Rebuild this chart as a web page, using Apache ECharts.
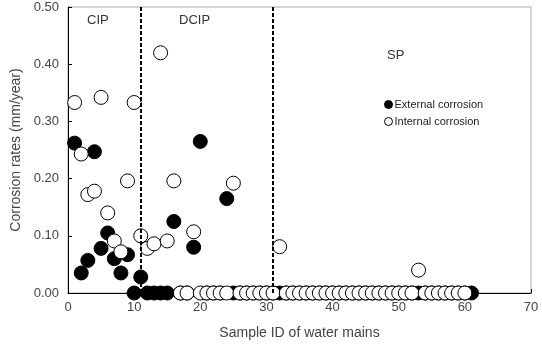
<!DOCTYPE html>
<html>
<head>
<meta charset="utf-8">
<script src="https://cdn.jsdelivr.net/npm/echarts@6/dist/echarts.min.js"></script>
<style>html,body{margin:0;padding:0;background:#fff;}#c{width:542px;height:345px;}</style>
</head>
<body>
<div id="c"></div>
<script>
// Sample IDs
const sampleIds = Array.from({length: 61}, (_, i) => i + 1);
// External corrosion rates (mm/year), sample 1..61
const externalRates = [
  0.262, 0.035, 0.057, 0.247, 0.078, 0.105, 0.060, 0.035, 0.067, 0.000,
  0.028, 0.000, 0.000, 0.000, 0.000, 0.125, 0.000, 0.000, 0.080, 0.265,
  0.000, 0.000, 0.000, 0.165, 0.000, 0.000, 0.000, 0.000, 0.000, 0.000,
  0.000, 0.000, 0.000, 0.000, 0.000, 0.000, 0.000, 0.000, 0.000, 0.000,
  0.000, 0.000, 0.000, 0.000, 0.000, 0.000, 0.000, 0.000, 0.000, 0.000,
  0.000, 0.000, 0.000, 0.000, 0.000, 0.000, 0.000, 0.000, 0.000, 0.000,
  0.000
];
// Internal corrosion rates (mm/year), sample 1..60
const internalRates = [
  0.333, 0.243, 0.172, 0.178, 0.342, 0.140, 0.091, 0.072, 0.196, 0.333,
  0.100, 0.078, 0.086, 0.420, 0.091, 0.196, 0.000, 0.000, 0.107, 0.000,
  0.000, 0.000, 0.000, 0.000, 0.192, 0.000, 0.000, 0.000, 0.000, 0.000,
  0.000, 0.081, 0.000, 0.000, 0.000, 0.000, 0.000, 0.000, 0.000, 0.000,
  0.000, 0.000, 0.000, 0.000, 0.000, 0.000, 0.000, 0.000, 0.000, 0.000,
  0.000, 0.000, 0.040, 0.000, 0.000, 0.000, 0.000, 0.000, 0.000, 0.000
];
// Pipe-type boundaries (sample ID) and region labels
const boundaries = [11, 31];
const regionLabels = ['CIP', 'DCIP', 'SP'];
const seriesNames = ['External corrosion', 'Internal corrosion'];

const extData = externalRates.map((v, i) => [sampleIds[i], v]);
const intData = internalRates.map((v, i) => [sampleIds[i], v]);

const chart = echarts.init(document.getElementById('c'), null, {renderer: 'canvas'});
const font = 'Liberation Sans, Arial, sans-serif';
chart.setOption({
  animation: false,
  backgroundColor: '#fff',
  grid: {left: 68, right: 11, top: 7, bottom: 52, show: true, borderColor: '#aaa', borderWidth: 1},
  legend: {
    orient: 'vertical', left: 384, top: 99, itemWidth: 8, itemHeight: 8, itemGap: 6, padding: 0,
    textStyle: {fontFamily: font, fontSize: 11, color: '#222', padding: [0, 0, 0, -3]},
    data: [
      {name: seriesNames[0], icon: 'circle', itemStyle: {color: '#000', borderColor: '#000', borderWidth: 1}},
      {name: seriesNames[1], icon: 'circle', itemStyle: {color: '#fff', borderColor: '#000', borderWidth: 1}}
    ]
  },
  xAxis: {
    type: 'value', min: 0, max: 70, interval: 10,
    name: 'Sample ID of water mains', nameLocation: 'middle', nameGap: 33,
    nameTextStyle: {fontFamily: font, fontSize: 14, color: '#444'},
    axisLine: {show: true, lineStyle: {color: '#000', width: 1}},
    axisTick: {show: true, inside: true, length: 4, lineStyle: {color: '#000'}},
    axisLabel: {fontFamily: font, fontSize: 13, color: '#444', margin: 8},
    splitLine: {show: false}
  },
  yAxis: {
    type: 'value', min: 0, max: 0.5, interval: 0.1,
    name: 'Corrosion rates (mm/year)', nameLocation: 'middle', nameGap: 44,
    nameTextStyle: {fontFamily: font, fontSize: 14, color: '#444'},
    axisLine: {show: true, lineStyle: {color: '#000', width: 1}},
    axisTick: {show: true, inside: true, length: 4, lineStyle: {color: '#000'}},
    axisLabel: {fontFamily: font, fontSize: 13, color: '#444', margin: 9, formatter: v => v.toFixed(2)},
    splitLine: {show: false}
  },
  graphic: [
    {type: 'text', left: 87, top: 14, style: {text: regionLabels[0], fontFamily: font, fontSize: 13, fill: '#333'}},
    {type: 'text', left: 179, top: 14, style: {text: regionLabels[1], fontFamily: font, fontSize: 13, fill: '#333'}},
    {type: 'text', left: 387, top: 49, style: {text: regionLabels[2], fontFamily: font, fontSize: 13, fill: '#333'}}
  ],
  series: [
    {
      name: seriesNames[0], type: 'scatter', symbol: 'circle', symbolSize: 14,
      itemStyle: {color: '#000', borderColor: '#000', borderWidth: 1, opacity: 1},
      data: extData, z: 3,
      markLine: {
        silent: true, symbol: 'none', label: {show: false},
        lineStyle: {color: '#000', type: [4, 2], width: 2},
        data: boundaries.map(b => ({xAxis: b}))
      }
    },
    {
      name: seriesNames[1], type: 'scatter', symbol: 'circle', symbolSize: 14,
      itemStyle: {color: '#fff', borderColor: '#000', borderWidth: 1, opacity: 1},
      data: intData, z: 4
    }
  ]
});
</script>
</body>
</html>
